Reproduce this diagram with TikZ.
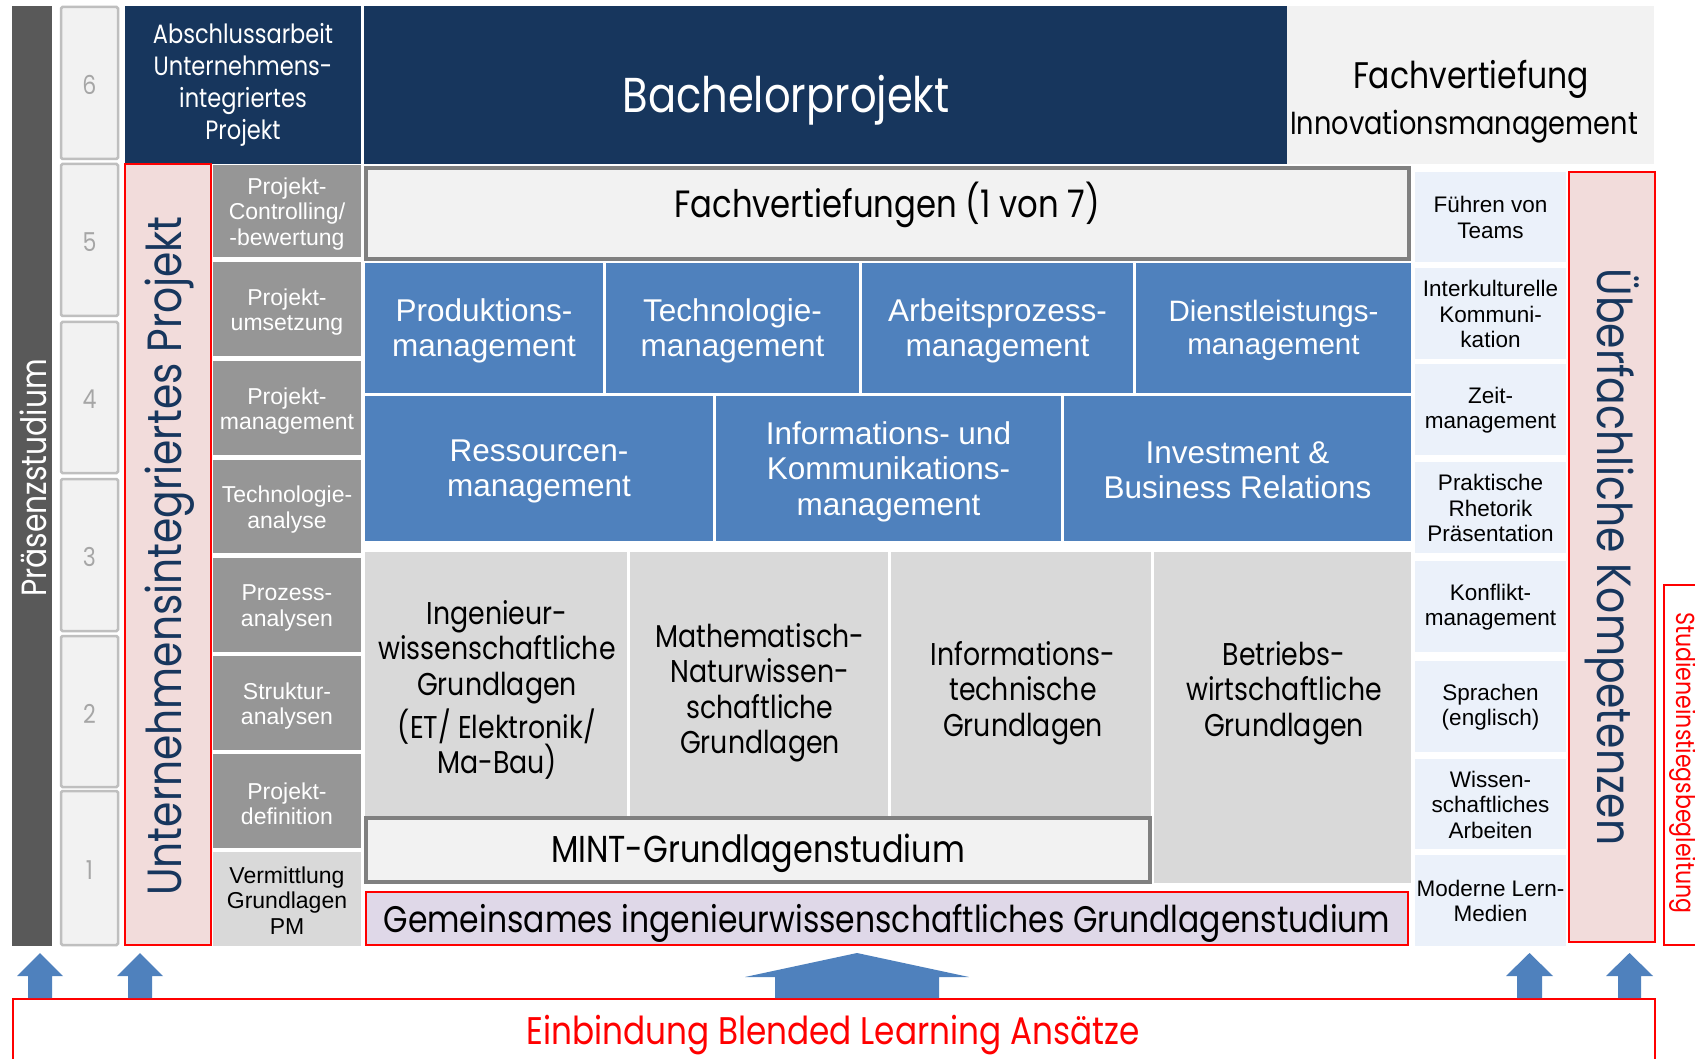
\documentclass[tikz,border=0pt]{standalone}
\usepackage{fontspec}
\setmainfont{Liberation Sans}
\newfontfamily\fut[FakeStretch=0.85]{Poppins}
\newfontfamily\hel{Liberation Sans}
\definecolor{cnavy}{HTML}{17365D}
\definecolor{cblue}{HTML}{4F81BD}
\definecolor{cmgray}{HTML}{969696}
\definecolor{clgray}{HTML}{D9D9D9}
\definecolor{cvlgray}{HTML}{F2F2F2}
\definecolor{clblue}{HTML}{EBF1FA}
\definecolor{cpink}{HTML}{F2DCDB}
\definecolor{clav}{HTML}{DFD8E8}
\definecolor{cdgray}{HTML}{595959}
\definecolor{cnum}{HTML}{A6A6A6}
\definecolor{cnumb}{HTML}{BFBFBF}
\definecolor{cframe}{HTML}{808080}
\definecolor{cred}{HTML}{FF0000}
\tikzset{tdy/.store in=\tdy, tdy=0pt}
\newcommand\bx[7]{%
  \pgfmathsetmacro\bw{#4-#2}\pgfmathsetmacro\bh{#5-#3}%
  \node[box,#6,minimum width=\bw pt,minimum height=\bh pt] (#1) at ({(#2+#4)/2},{(#3+#5)/2}) {};
  \node[box,#6,fill=none,draw=none,yshift=\tdy] (#1t) at (#1.center) {#7};}
\newcommand\uparr[7]{% cx, shaft half, head half, tip, headbase, bottom
  \fill[cblue] (#1-#2,#6) -- (#1-#2,#5) -- (#1-#3,#5) -- (#1,#4) -- (#1+#3,#5) -- (#1+#2,#5) -- (#1+#2,#6) -- cycle;}
\tikzset{
  box/.style={rectangle,inner sep=0pt,outer sep=0pt,align=center},
  numbox/.style={fill=cvlgray,draw=cnumb,line width=2.5pt,rounded corners=1.5pt,text=cnum,font=\fut\fontsize{26}{28}\selectfont,tdy=-2pt},
  navybox/.style={fill=cnavy,text=white},
  redbox/.style={fill=cpink,draw=cred,line width=2.5pt},
  framebox/.style={fill=cvlgray,draw=cframe,line width=3.5pt},
  pmbox/.style={fill=cmgray,text=white,font=\hel\fontsize{23}{25.5}\selectfont,tdy=-3pt},
  pmlbox/.style={fill=clgray,text=black,font=\hel\fontsize{23}{25.5}\selectfont,tdy=-1.5pt},
  bluebox/.style={fill=cblue,text=white,font=\hel\fontsize{31.5}{35.5}\selectfont,tdy=-3pt},
  gbox/.style={fill=clgray},
  gtext/.style={box,font=\fut\fontsize{31.5}{35.5}\selectfont},
  skbox/.style={fill=clblue,text=black,font=\hel\fontsize{22.5}{25.5}\selectfont,tdy=-0.5pt},
  vtext/.style={box,text=cnavy,font=\fut\fontsize{48}{52}\selectfont},
}
\begin{document}
\begin{tikzpicture}[x=1pt,y=-1pt]
\clip (0,0) rectangle (1695,1059);
\fill[white] (0,0) rectangle (1695,1059);

% Praesenzstudium bar
\bx{praes}{12}{6}{52}{946}{fill=cdgray}{}
\node[box,rotate=90,text=white,font=\fut\fontsize{35}{38}\selectfont] (praestext) at (33,478) {Präsenzstudium};

% semester numbers
\bx{n6}{61}{7}{118}{159}{numbox}{6}
\bx{n5}{61}{164}{118}{316}{numbox}{5}
\bx{n4}{61}{322}{118}{473}{numbox}{4}
\bx{n3}{61}{479}{118}{631}{numbox}{3}
\bx{n2}{61}{636}{118}{787}{numbox}{2}
\bx{n1}{61}{791}{118}{945}{numbox}{1}

% top row
\bx{absch}{125}{6}{361}{164}{navybox,font=\fut\fontsize{26.5}{32}\selectfont}{Abschlussarbeit\\Unternehmens-\\integriertes\\Projekt}
\bx{bach}{364}{6}{1287}{164}{navybox}{}
\node[box,text=white,font=\fut\fontsize{49}{54}\selectfont] (bachtext) at (786,100) {Bachelorprojekt};
\bx{fvtop}{1287}{6}{1654}{164}{fill=cvlgray}{}
\node[box,font=\fut\fontsize{37}{40}\selectfont] (fvtop1) at (1471,79) {Fachvertiefung};
\node[box,font=\fut\fontsize{32}{36}\selectfont] (fvtop2) at (1464,127) {Innovationsmanagement};

% Unternehmensintegriertes Projekt
\bx{uip}{125}{164}{211}{945}{redbox}{}
\node[vtext,rotate=90] (uiptext) at (170,556) {Unternehmensintegriertes Projekt};

% project column
\bx{p1}{213}{165}{361}{257}{pmbox}{Projekt-\\Controlling/\\-bewertung}
\bx{p2}{213}{262}{361}{356}{pmbox}{Projekt-\\umsetzung}
\bx{p3}{213}{361}{361}{455}{pmbox}{Projekt-\\management}
\bx{p4}{213}{460}{361}{553}{pmbox}{Technologie-\\analyse}
\bx{p5}{213}{558}{361}{652}{pmbox}{Prozess-\\analysen}
\bx{p6}{213}{656}{361}{750}{pmbox}{Struktur-\\analysen}
\bx{p7}{213}{754}{361}{848}{pmbox}{Projekt-\\definition}
\bx{p8}{213}{852}{361}{946}{pmlbox}{Vermittlung\\Grundlagen\\PM}

% Fachvertiefungen
\bx{fv}{366}{168}{1409}{259}{framebox}{}
\node[box,font=\fut\fontsize{38}{41}\selectfont] (fvtext) at (887,205) {Fachvertiefungen (1 von 7)};

\bx{b1}{365}{263}{603}{393}{bluebox}{Produktions-\\management}
\bx{b2}{606}{263}{859}{393}{bluebox}{Technologie-\\management}
\bx{b3}{862}{263}{1133}{393}{bluebox}{Arbeitsprozess-\\management}
\bx{b4}{1136}{263}{1411}{393}{bluebox,font=\hel\fontsize{29.5}{33}\selectfont,tdy=-2pt}{Dienstleistungs-\\management}
\bx{b5}{365}{396}{713}{541}{bluebox}{Ressourcen-\\management}
\bx{b6}{716}{396}{1061}{541}{bluebox}{Informations- und\\Kommunikations-\\management}
\bx{b7}{1064}{396}{1411}{541}{bluebox,tdy=-2pt}{Investment \&\\Business Relations}

% Grundlagen
\bx{g1}{365}{552}{627}{816}{gbox}{}
\bx{g2}{630}{552}{888}{816}{gbox}{}
\bx{g3}{891}{552}{1151}{816}{gbox}{}
\bx{g4}{1154}{552}{1411}{883}{gbox}{}
\node[gtext] (g1t) at (497,690) {Ingenieur-\\wissenschaftliche\\Grundlagen\\[4pt](ET/ Elektronik/\\Ma-Bau)};
\node[gtext] (g2t) at (760,693) {Mathematisch-\\Naturwissen-\\schaftliche\\Grundlagen};
\node[gtext] (g3t) at (1023,693) {Informations-\\technische\\Grundlagen};
\node[gtext] (g4t) at (1284,693) {Betriebs-\\wirtschaftliche\\Grundlagen};

\bx{mint}{366}{818}{1150}{882}{framebox,font=\fut\fontsize{37.5}{40}\selectfont,tdy=-3pt}{MINT-Grundlagenstudium}
\bx{gem}{366}{892}{1408}{945}{fill=clav,draw=cred,line width=2.5pt,font=\fut\fontsize{37}{40}\selectfont,tdy=-5pt}{Gemeinsames ingenieurwissenschaftliches Grundlagenstudium}

% soft skills
\bx{s1}{1415}{172}{1566}{262}{skbox}{Führen von\\Teams}
\bx{s2}{1415}{268}{1566}{359}{skbox}{Interkulturelle\\Kommuni-\\kation}
\bx{s3}{1415}{364}{1566}{455}{skbox}{Zeit-\\management}
\bx{s4}{1415}{462}{1566}{553}{skbox}{Praktische\\Rhetorik\\Präsentation}
\bx{s5}{1415}{561}{1566}{652}{skbox}{Konflikt-\\management}
\bx{s6}{1415}{661}{1566}{752}{skbox}{Sprachen\\(englisch)}
\bx{s7}{1415}{759}{1566}{849}{skbox}{Wissen-\\schaftliches\\Arbeiten}
\bx{s8}{1415}{855}{1566}{946}{skbox}{Moderne Lern-\\Medien}

\bx{ufk}{1569}{172}{1655}{942}{redbox}{}
\node[vtext,rotate=-90] (ufktext) at (1612,557) {Überfachliche Kompetenzen};

\bx{seb}{1664}{585}{1720}{945}{draw=cred,line width=2pt}{}
\node[box,rotate=-90,text=cred,font=\fut\fontsize{26}{28}\selectfont] (sebtext) at (1683,763) {Studieneinstiegsbegleitung};

% Blended learning
\bx{einb}{13}{999}{1655}{1090}{draw=cred,line width=2.5pt}{}
\node[box,text=cred,font=\fut\fontsize{38.5}{42}\selectfont] (einbtext) at (833,1035) {Einbindung Blended Learning Ansätze};

% arrows
\uparr{40}{12}{23}{953}{976}{998}{}
\uparr{140}{12}{23}{953}{976}{998}{}
\uparr{857}{82}{112}{953}{977}{998}{}
\uparr{1529.5}{12.5}{23.5}{953}{976}{998}{}
\uparr{1629.5}{11.5}{23.5}{953}{976}{998}{}
\end{tikzpicture}
\end{document}
